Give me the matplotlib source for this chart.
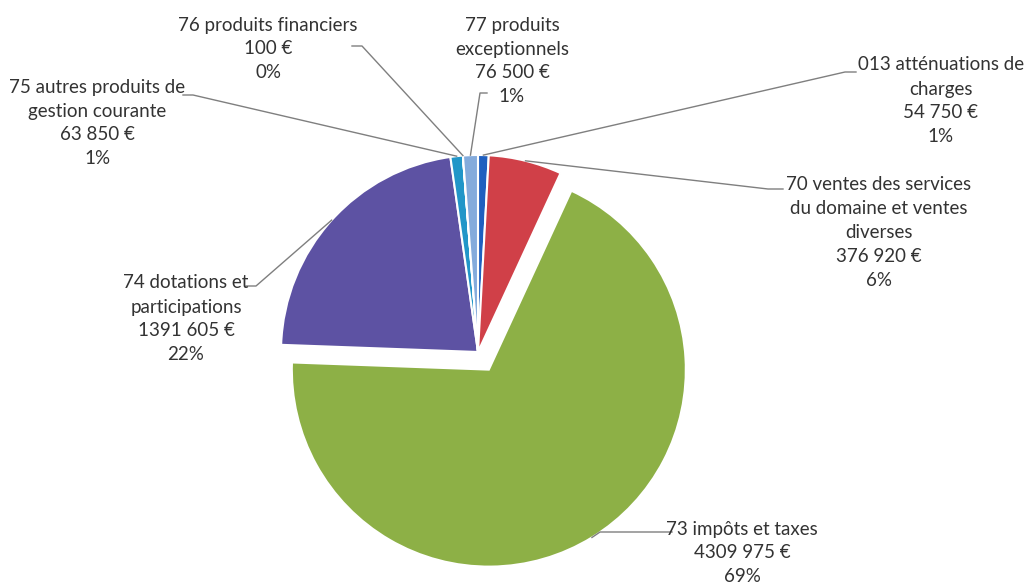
import numpy as np
import matplotlib.pyplot as plt

plt.rcParams['font.family'] = ['Lato', 'DejaVu Sans']

CATEGORIES = [
    '013 atténuations de\ncharges',
    '70 ventes des services\ndu domaine et ventes\ndiverses',
    '73 impôts et taxes',
    '74 dotations et\nparticipations',
    '75 autres produits de\ngestion courante',
    '76 produits financiers',
    '77 produits\nexceptionnels',
]
VALUES = [54750, 376920, 4309975, 1391605, 63850, 100, 76500]
VALUE_LABELS = ['54 750 €', '376 920 €', '4309 975 €', '1391 605 €',
                '63 850 €', '100 €', '76 500 €']
COLORS = ['#1f5fbf', '#d04048', '#8db046', '#5d52a3', '#2196c8',
          '#4bacc6', '#84abdc']
EXPLODE = [0, 0, 0.105, 0, 0, 0, 0]

# layout in pixels of the 1026x588 picture
W, H = 1026, 588
CX, CY, R = 478, 352, 197
TEXT_POS = [(941, 101), (879, 232), (742, 553), (186, 319),
            (97, 123), (268, 49), (512, 61)]
# leader: (elbow x, elbow y, end x next to the text)
LEADERS = [(845, 72, 856), (768, 189, 783), (600, 532, 672), (256, 286, 246),
           (193, 95, 183), (362, 46, 352), (480, 93, 487)]


def px(x, y):
    return (x - CX) / R, (CY - y) / R


fig = plt.figure(figsize=(W / 100, H / 100), dpi=100)
ax = fig.add_axes([0, 0, 1, 1])

wedges, _ = ax.pie(VALUES, colors=COLORS, explode=EXPLODE, startangle=90,
                   counterclock=False, radius=1,
                   wedgeprops=dict(edgecolor='white', linewidth=1.5))
ax.set_xlim(-CX / R, (W - CX) / R)
ax.set_ylim(-(H - CY) / R, CY / R)
ax.axis('off')

total = sum(VALUES)
for i, w in enumerate(wedges):
    ang = np.deg2rad((w.theta1 + w.theta2) / 2)
    ax0 = w.center[0] + w.r * np.cos(ang)
    ay0 = w.center[1] + w.r * np.sin(ang)
    ex, ey, tx = LEADERS[i]
    ex, ey = px(ex, ey)
    tx, _ = px(tx, 0)
    ax.plot([ax0, ex, tx], [ay0, ey, ey], color='#7f7f7f', lw=1)

    pct = round(VALUES[i] / total * 100)
    label = f'{CATEGORIES[i]}\n{VALUE_LABELS[i]}\n{pct}%'
    ax.text(*px(*TEXT_POS[i]), label, ha='center', va='center',
            fontsize=13.5, color='#333333', linespacing=1.5)

fig.savefig('out.png', dpi=100)
